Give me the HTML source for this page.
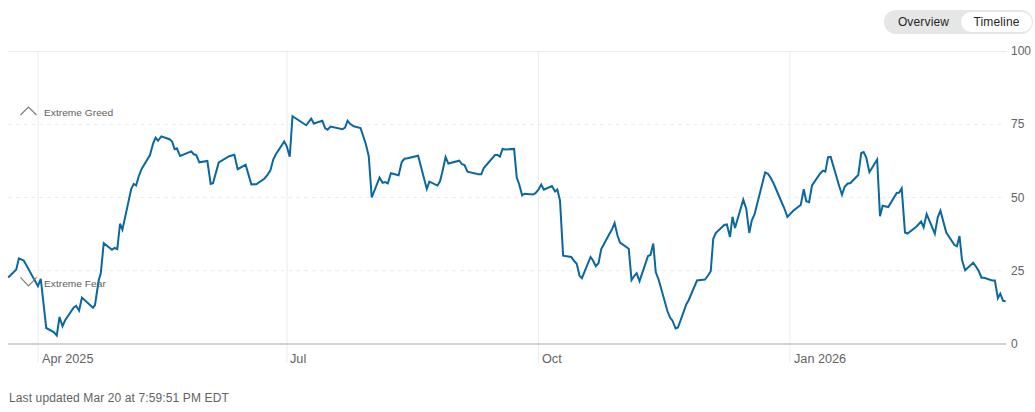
<!DOCTYPE html>
<html><head><meta charset="utf-8">
<style>
html,body{margin:0;padding:0;background:#fff;}
body{width:1035px;height:412px;position:relative;overflow:hidden;font-family:"Liberation Sans",Arial,sans-serif;}
.toggle{position:absolute;left:884px;top:10px;width:148.8px;height:23.6px;border-radius:12px;background:#e6e6e6;}
.toggle span{position:absolute;top:1.6px;height:20.6px;line-height:20.8px;letter-spacing:0.15px;font-size:12px;color:#262626;text-align:center;border-radius:11px;}
.toggle .a{left:2px;width:75px;}
.toggle .b{left:77px;width:71px;background:#fff;}
.lbl{position:absolute;font-size:12px;color:#626262;line-height:14px;white-space:nowrap;}
.small{position:absolute;font-size:9.4px;color:#606060;line-height:12px;white-space:nowrap;transform:scaleX(1.088);transform-origin:0 0;}
.xl{transform:scaleX(1.056);transform-origin:0 0;}
svg{position:absolute;left:0;top:0;}
</style></head><body>
<svg width="1035" height="412" viewBox="0 0 1035 412">
  <g stroke="#ececec" stroke-width="1" fill="none">
    <line x1="8" y1="51.5" x2="1007" y2="51.5"/>
    <line x1="8.1" y1="124.4" x2="1003" y2="124.4" stroke="#eaeaea" stroke-dasharray="3.9 3.89"/>
    <line x1="8.1" y1="197.4" x2="1003" y2="197.4" stroke="#eaeaea" stroke-dasharray="3.9 3.89"/>
    <line x1="8.1" y1="270.7" x2="1003" y2="270.7" stroke="#eaeaea" stroke-dasharray="3.9 3.89"/>
    <line x1="38" y1="51" x2="38" y2="362.5"/>
    <line x1="287" y1="51" x2="287" y2="362.5"/>
    <line x1="538.4" y1="51" x2="538.4" y2="362.5"/>
    <line x1="789.9" y1="51" x2="789.9" y2="362.5"/>
  </g>
  <line x1="8" y1="344" x2="1006" y2="344" stroke="#d3d3d3" stroke-width="1.8"/>
  <polyline points="8.25,277.50 16.25,269.50 18.90,258.31 23.75,260.50 37.93,286.17 40.75,278.75 46.25,328.00 53.75,332.00 56.77,335.39 59.50,317.00 62.54,326.25 65.00,320.50 73.75,307.50 76.17,305.83 79.07,310.69 81.95,297.61 92.97,307.69 95.00,305.00 98.75,280.00 100.75,273.50 103.75,243.12 112.00,249.83 114.50,248.00 117.30,249.13 120.00,223.75 122.41,229.68 131.25,188.75 133.82,183.90 136.10,185.46 138.75,176.25 141.75,168.75 150.00,155.00 153.00,143.75 155.56,137.73 158.01,140.75 161.30,136.39 169.50,139.25 172.00,141.25 174.62,149.18 176.89,148.30 180.10,156.01 191.22,151.39 193.75,154.25 196.25,155.00 199.33,162.35 207.35,160.96 210.68,183.95 213.00,183.25 218.75,162.50 229.25,156.25 234.36,154.74 237.66,169.13 245.62,164.84 251.34,184.37 256.25,184.25 264.25,178.75 267.50,175.00 270.50,170.00 273.25,159.50 275.75,154.50 284.21,141.37 286.75,146.25 289.75,156.75 292.50,116.27 306.21,125.27 311.20,118.60 313.83,123.56 322.40,120.72 325.00,128.00 327.48,129.79 330.50,126.50 342.50,129.25 345.00,127.50 347.59,120.70 350.00,123.75 353.75,126.25 360.50,128.00 365.75,143.75 368.75,156.25 371.75,197.50 379.54,177.60 382.57,182.81 385.00,182.00 387.86,183.42 390.87,173.22 398.62,175.27 401.75,162.00 404.50,158.75 407.50,158.25 418.13,155.70 426.78,188.95 429.38,181.56 437.44,185.53 440.00,181.25 442.50,171.25 445.61,157.13 448.35,163.57 459.25,160.75 462.00,164.25 464.50,165.00 467.50,171.75 478.25,174.25 481.25,174.25 483.75,168.00 495.00,155.00 497.50,155.00 499.87,156.59 502.60,148.93 505.50,149.50 514.10,148.92 516.75,177.50 519.25,184.50 522.15,195.30 524.50,193.75 533.00,194.50 535.50,193.25 538.25,190.00 541.22,184.57 543.84,189.75 551.92,185.98 555.05,191.50 557.33,189.49 560.00,200.50 563.12,255.64 571.25,257.00 573.75,260.50 576.75,263.75 579.50,275.75 581.91,278.22 590.56,256.97 593.00,260.50 595.82,266.23 598.50,263.25 601.25,249.00 609.50,233.75 611.80,229.80 614.59,223.03 617.50,235.50 620.00,242.50 628.75,248.75 631.54,280.09 634.00,276.25 636.62,273.20 639.53,281.12 648.00,256.00 650.50,255.00 653.25,243.50 655.75,272.00 658.75,280.00 667.50,311.25 670.00,317.50 672.50,320.75 675.60,328.50 678.00,327.50 686.25,304.50 688.75,300.00 697.00,280.50 705.00,279.50 707.50,276.25 710.75,271.25 713.25,238.75 715.75,233.00 724.25,225.00 726.88,224.46 730.00,237.00 732.50,216.75 735.00,228.00 743.26,199.73 746.25,208.75 749.25,233.00 751.75,220.50 754.50,214.50 765.14,172.34 768.00,173.75 770.75,178.00 773.75,183.75 781.75,202.50 784.50,208.75 787.37,216.95 793.25,210.75 800.75,205.00 803.75,189.25 806.25,201.25 809.09,202.20 812.00,185.50 820.00,173.75 823.02,170.66 825.32,171.61 828.10,157.11 830.66,156.88 839.25,186.25 842.00,194.71 844.50,187.00 847.50,183.75 850.50,183.00 858.25,175.00 861.25,153.00 863.66,151.98 866.25,157.50 869.42,172.17 877.16,159.48 880.00,216.25 882.62,205.70 888.25,207.00 896.75,193.00 899.25,192.50 901.69,188.34 905.00,232.50 907.50,233.50 916.25,226.75 921.14,221.56 923.63,227.26 926.65,214.06 934.83,233.62 937.75,217.25 940.44,210.64 946.25,232.50 954.50,245.00 956.85,246.35 959.50,236.00 962.00,260.00 965.14,270.23 973.22,262.82 976.25,267.00 978.75,271.00 981.50,277.75 984.00,277.75 992.25,280.50 994.87,280.46 997.89,298.15 1000.29,293.61 1003.10,300.80 1005.60,301.20" fill="none" stroke="#0a67a0" stroke-width="2" stroke-linejoin="miter"/>
  <polyline points="20.5,115 28.5,107 36.5,115" fill="none" stroke="#7c7c7c" stroke-width="1.15"/>
  <polyline points="20.5,277.4 28.5,285.9 36.7,277.4" fill="none" stroke="#7c7c7c" stroke-width="1.15"/>
</svg>
<div class="toggle"><span class="a">Overview</span><span class="b">Timeline</span></div>
<div class="lbl" style="left:1011px;top:44px;">100</div>
<div class="lbl" style="left:1011px;top:117px;">75</div>
<div class="lbl" style="left:1011px;top:191px;">50</div>
<div class="lbl" style="left:1011px;top:264px;">25</div>
<div class="lbl" style="left:1011px;top:337px;">0</div>
<div class="lbl xl" style="left:41.8px;top:352px;">Apr 2025</div>
<div class="lbl xl" style="left:290.1px;top:352px;">Jul</div>
<div class="lbl xl" style="left:541.6px;top:352px;">Oct</div>
<div class="lbl xl" style="left:793.6px;top:352px;">Jan 2026</div>
<div class="small" style="left:44px;top:106.9px;">Extreme Greed</div>
<div class="small" style="left:43.9px;top:277.9px;">Extreme Fear</div>
<div class="lbl" style="left:9px;top:391px;letter-spacing:0.12px;">Last updated Mar 20 at 7:59:51 PM EDT</div>
</body></html>
